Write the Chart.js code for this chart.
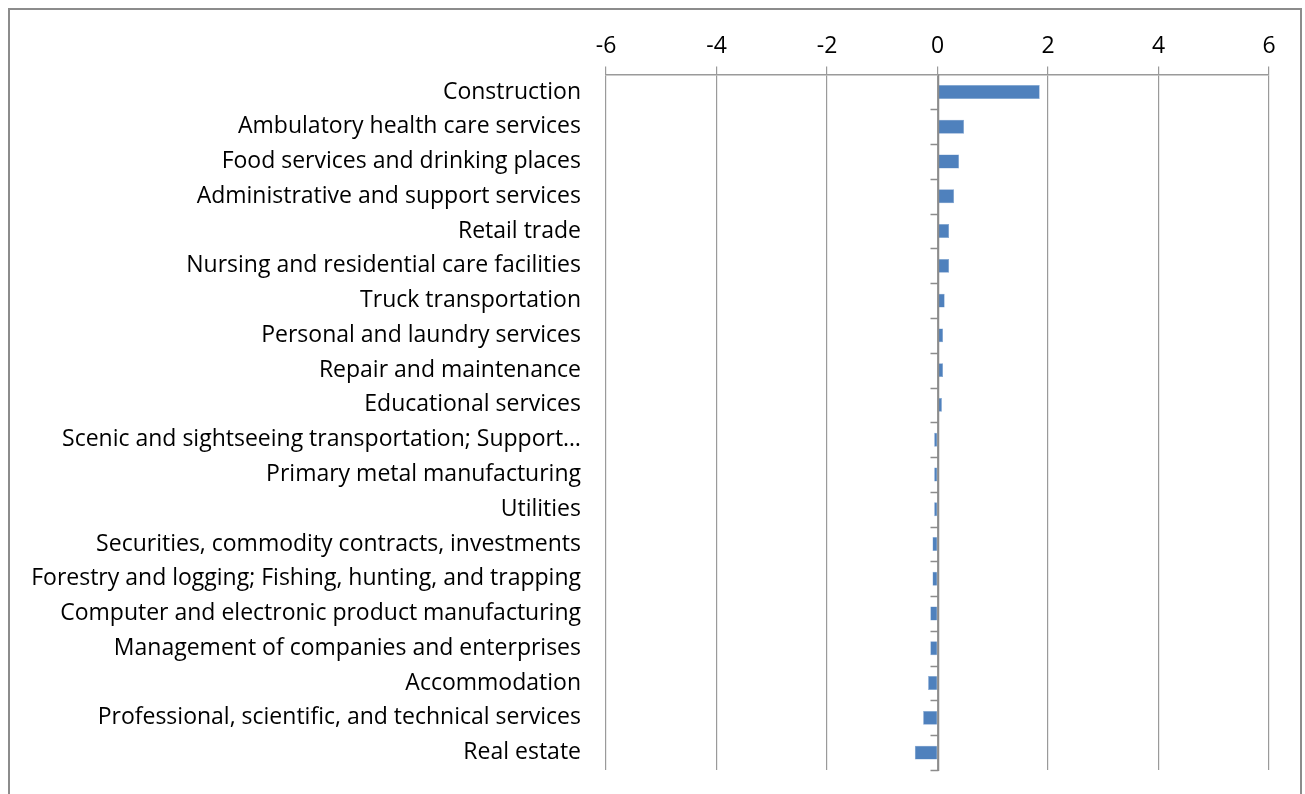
<!DOCTYPE html>
<html>
<head>
<meta charset="utf-8">
<script src="https://cdn.jsdelivr.net/npm/chart.js@4"></script>
<style>
  html, body { margin: 0; padding: 0; background: #fff; overflow: hidden; }
  #frame {
    position: absolute; left: 8px; top: 8px;
    width: 1290px; height: 800px;
    border: 2px solid #8c8c8c;
    background: #fff;
  }
</style>
</head>
<body>
<div id="frame"><canvas id="myChart"></canvas></div>
<script>
// industries, top to bottom
var industries = [
  "Construction",
  "Ambulatory health care services",
  "Food services and drinking places",
  "Administrative and support services",
  "Retail trade",
  "Nursing and residential care facilities",
  "Truck transportation",
  "Personal and laundry services",
  "Repair and maintenance",
  "Educational services",
  "Scenic and sightseeing transportation; Support\u2026",
  "Primary metal manufacturing",
  "Utilities",
  "Securities, commodity contracts, investments",
  "Forestry and logging; Fishing, hunting, and trapping",
  "Computer and electronic product manufacturing",
  "Management of companies and enterprises",
  "Accommodation",
  "Professional, scientific, and technical services",
  "Real estate"
];
var changes = [1.85, 0.48, 0.39, 0.30, 0.21, 0.21, 0.13, 0.10, 0.10, 0.08,
  -0.06, -0.06, -0.06, -0.09, -0.09, -0.13, -0.13, -0.17, -0.26, -0.41];
var xMin = -6, xMax = 6, xStep = 2;

// little tick marks on the zero line between categories
var zeroTicks = {
  id: 'zeroTicks',
  afterDatasetsDraw: function(chart) {
    var x = chart.scales.x, y = chart.scales.y, c = chart.ctx;
    var x0 = Math.round(x.getPixelForValue(0)) + 0.5;
    var n = industries.length, step = (y.bottom - y.top) / n;
    c.save();
    c.strokeStyle = '#8c8c8c';
    c.lineWidth = 1.5;
    c.beginPath();
    c.moveTo(x0, y.top);
    c.lineTo(x0, y.bottom + 1);
    for (var i = 1; i <= n; i++) {
      var yy = Math.round(y.top + i * step) + 0.5;
      c.moveTo(x0 - 8, yy);
      c.lineTo(x0, yy);
    }
    c.stroke();
    c.restore();
  }
};

var ctx = document.getElementById("myChart");
var myChart = new Chart(ctx, {
  type: 'bar',
  data: {
    labels: industries,
    datasets: [{
      data: changes,
      backgroundColor: '#4f81bd',
      borderColor: '#7fa3d0',
      borderWidth: 0.5,
      barPercentage: 0.4,
      categoryPercentage: 1.0
    }]
  },
  options: {
    indexAxis: 'y',
    responsive: true,
    maintainAspectRatio: false,
    animation: false,
    layout: { padding: { top: 17, right: 31, bottom: 40, left: 0 } },
    plugins: {
      legend: { display: false },
      tooltip: { enabled: false }
    },
    scales: {
      x: {
        position: 'top',
        min: xMin,
        max: xMax,
        ticks: {
          stepSize: xStep,
          color: '#000',
          padding: 6,
          font: { family: 'Open Sans', size: 23 }
        },
        grid: {
          color: '#9a9a9a',
          lineWidth: 1.2,
          tickLength: 8,
          drawTicks: true
        },
        border: { color: '#9a9a9a', width: 1.5 }
      },
      y: {
        grid: { display: false },
        border: { display: false },
        ticks: {
          color: '#000',
          padding: 17,
          autoSkip: false,
          font: { family: 'Open Sans', size: 23 }
        },
        afterFit: function(scale) { scale.width = 596; }
      }
    }
  },
  plugins: [zeroTicks]
});
</script>
</body>
</html>
